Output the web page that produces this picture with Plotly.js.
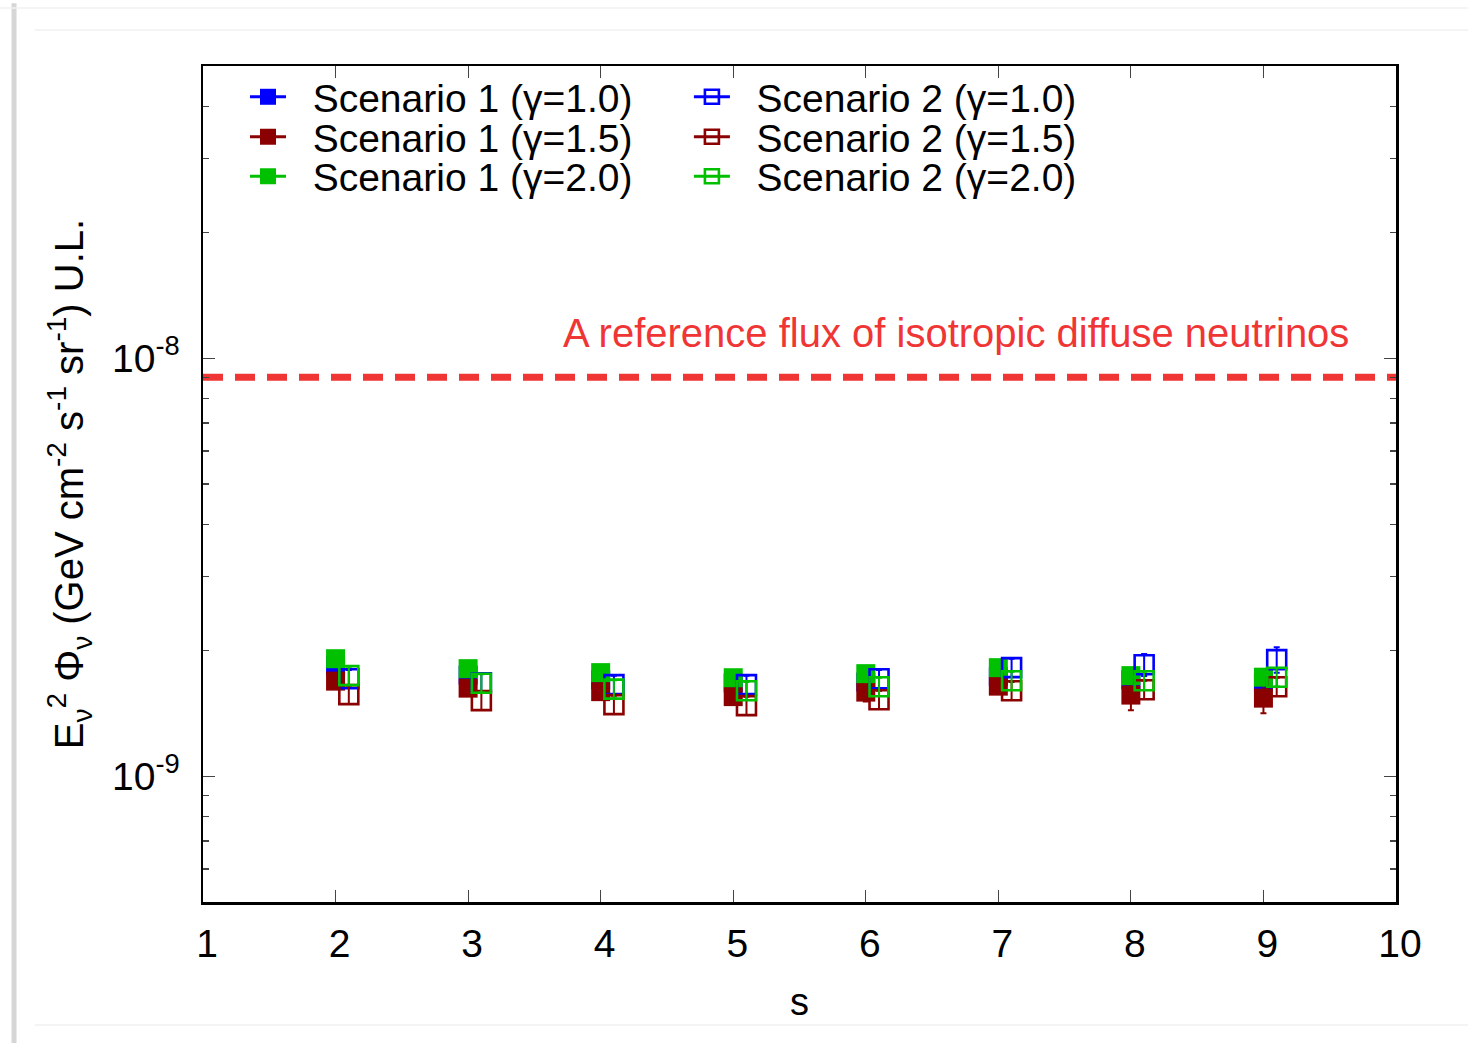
<!DOCTYPE html>
<html>
<head>
<meta charset="utf-8">
<script src="https://cdn.plot.ly/plotly-3.0.1.min.js"></script>
<style>
html,body{margin:0;padding:0;background:#ffffff;}
#chart{width:1468px;height:1043px;}
</style>
</head>
<body>
<div id="chart"></div>
<script>
// ---- data ----
const sValues = [2, 3, 4, 5, 6, 7, 8, 9];                          // Scenario 1 positions
const sValuesShifted = [2.1, 3.1, 4.1, 5.1, 6.1, 7.1, 8.1, 9.1];   // Scenario 2 drawn slightly right

// Upper limits E^2 Phi (GeV cm^-2 s^-1 sr^-1)
const scen1Gamma10 = [1.84e-9, 1.745e-9, 1.70e-9, 1.67e-9, 1.68e-9, 1.73e-9, 1.70e-9, 1.68e-9];
const scen1Gamma15 = [1.688e-9, 1.624e-9, 1.593e-9, 1.550e-9, 1.589e-9, 1.642e-9, 1.563e-9, 1.537e-9];
const scen1Gamma20 = [1.910e-9, 1.808e-9, 1.769e-9, 1.720e-9, 1.759e-9, 1.818e-9, 1.740e-9, 1.725e-9];
const scen2Gamma10 = [1.71e-9, 1.673e-9, 1.656e-9, 1.656e-9, 1.710e-9, 1.818e-9, 1.848e-9, 1.900e-9];
const scen2Gamma15 = [1.567e-9, 1.516e-9, 1.483e-9, 1.475e-9, 1.524e-9, 1.601e-9, 1.610e-9, 1.637e-9];
const scen2Gamma20 = [1.740e-9, 1.669e-9, 1.615e-9, 1.601e-9, 1.637e-9, 1.692e-9, 1.692e-9, 1.725e-9];

// relative error bar half-lengths (fraction)
const relErrScen1Gamma10 = [0.04, 0.04, 0.04, 0.04, 0.04, 0.04, 0.04, 0.04];
const relErrScen1Gamma15 = [0.04, 0.04, 0.04, 0.04, 0.05, 0.04, 0.08, 0.08];
const relErrScen1Gamma20 = [0.04, 0.04, 0.04, 0.04, 0.04, 0.04, 0.04, 0.04];
const relErrScen2Gamma10 = [0.05, 0.05, 0.05, 0.05, 0.05, 0.05, 0.06, 0.07];
const relErrScen2Gamma15 = [0.05, 0.05, 0.05, 0.05, 0.05, 0.05, 0.05, 0.05];
const relErrScen2Gamma20 = [0.05, 0.05, 0.05, 0.05, 0.05, 0.05, 0.05, 0.05];

const seriesNames = [
  'Scenario 1 (\u03b3=1.0)', 'Scenario 1 (\u03b3=1.5)', 'Scenario 1 (\u03b3=2.0)',
  'Scenario 2 (\u03b3=1.0)', 'Scenario 2 (\u03b3=1.5)', 'Scenario 2 (\u03b3=2.0)'
];

const referenceFlux = 9.0e-9;          // isotropic diffuse neutrino reference flux
const referenceX = [1, 10];
const referenceLabel = 'A reference flux of isotropic diffuse neutrinos';

const xTickVals = [1, 2, 3, 4, 5, 6, 7, 8, 9, 10];
const yTickVals = [1e-9, 1e-8];
const yTickText = ['10<sup>-9</sup>', '10<sup>-8</sup>'];

// ---- styling ----
const BLUE = '#0000ff', DRED = '#8b0000', GREEN = '#00c000', REF = '#f03535';
const FONT = 'Liberation Sans, Arial, Helvetica, sans-serif';
const pad = '\u00a0\u00a0';

function errArr(vals, rel) { return vals.map((v, i) => v * rel[i]); }

function dataTrace(x, y, rel, color, filled) {
  return {
    type: 'scatter', mode: 'markers', x: x, y: y, showlegend: false, hoverinfo: 'x+y',
    marker: filled
      ? {symbol: 'square', size: 19, color: color, line: {width: 0}}
      : {symbol: 'square-open', size: 19, color: color, line: {width: 2.6, color: color}},
    error_y: {type: 'data', array: errArr(y, rel), visible: true, color: color, thickness: 2, width: 3}
  };
}

function legendTrace(name, color, filled, legendId) {
  return {
    type: 'scatter', mode: 'lines+markers', x: [null], y: [null], name: pad + name,
    legend: legendId, showlegend: true,
    line: {color: color, width: 3},
    marker: filled
      ? {symbol: 'square', size: 16, color: color}
      : {symbol: 'square-open', size: 14, color: color, line: {width: 2.6, color: color}}
  };
}

const traces = [
  dataTrace(sValues, scen1Gamma10, relErrScen1Gamma10, BLUE, true),
  dataTrace(sValues, scen1Gamma15, relErrScen1Gamma15, DRED, true),
  dataTrace(sValues, scen1Gamma20, relErrScen1Gamma20, GREEN, true),
  dataTrace(sValuesShifted, scen2Gamma10, relErrScen2Gamma10, BLUE, false),
  dataTrace(sValuesShifted, scen2Gamma15, relErrScen2Gamma15, DRED, false),
  dataTrace(sValuesShifted, scen2Gamma20, relErrScen2Gamma20, GREEN, false),
  {
    type: 'scatter', mode: 'lines', x: referenceX, y: [referenceFlux, referenceFlux],
    showlegend: false, hoverinfo: 'skip',
    line: {color: REF, width: 7, dash: '20px,12px'}
  },
  legendTrace(seriesNames[0], BLUE, true, 'legend'),
  legendTrace(seriesNames[1], DRED, true, 'legend2'),
  legendTrace(seriesNames[2], GREEN, true, 'legend3'),
  legendTrace(seriesNames[3], BLUE, false, 'legend4'),
  legendTrace(seriesNames[4], DRED, false, 'legend5'),
  legendTrace(seriesNames[5], GREEN, false, 'legend6')
];

function legendBox(x, y) {
  return {x: x, y: y, xanchor: 'left', yanchor: 'middle', bgcolor: 'rgba(0,0,0,0)',
          borderwidth: 0, itemwidth: 36, font: {family: FONT, size: 39, color: '#000'}};
}
const col1 = 0.0352, col2 = 0.4073;
const row1 = 0.9630, row2 = 0.9152, row3 = 0.8680;

const layout = {
  width: 1468, height: 1043,
  paper_bgcolor: '#ffffff', plot_bgcolor: '#ffffff',
  margin: {l: 203, r: 72, t: 66, b: 141, pad: 0},
  font: {family: FONT, size: 39, color: '#000'},
  showlegend: true,
  legend: legendBox(col1, row1),
  legend2: legendBox(col1, row2),
  legend3: legendBox(col1, row3),
  legend4: legendBox(col2, row1),
  legend5: legendBox(col2, row2),
  legend6: legendBox(col2, row3),
  xaxis: {
    range: [1, 10], tickvals: xTickVals, ticks: 'inside', ticklen: 12, tickwidth: 1.2,
    tickcolor: '#444', showline: true, linecolor: '#000', linewidth: 2.5, mirror: 'ticks',
    showgrid: false, zeroline: false, tickfont: {family: FONT, size: 39},
    ticklabelstandoff: 6, ticklabelshift: 4,
    title: {text: 's', font: {family: FONT, size: 38}, standoff: 24}
  },
  yaxis: {
    type: 'log', range: [Math.log10(5e-10), Math.log10(5e-8)],
    tickvals: yTickVals, ticktext: yTickText, ticks: 'inside', ticklen: 12, tickwidth: 1.2,
    tickcolor: '#444', showline: true, linecolor: '#000', linewidth: 2.5, mirror: 'ticks',
    showgrid: false, zeroline: false, tickfont: {family: FONT, size: 39},
    ticklabelstandoff: 13,
    minor: {ticks: 'inside', ticklen: 6, tickwidth: 1.2, tickcolor: '#444', dtick: 'D1', showgrid: false},
    title: {
      text: 'E<sub>\u03bd</sub><sup>2</sup> \u03a6<sub>\u03bd</sub> (GeV cm<sup>-2</sup> s<sup>-1</sup> sr<sup>-1</sup>) U.L.',
      font: {family: FONT, size: 40}, standoff: 16
    }
  },
  annotations: [{
    xref: 'paper', yref: 'paper', x: 0.9623, y: 0.6806, xanchor: 'right', yanchor: 'middle',
    text: referenceLabel, showarrow: false, font: {family: FONT, size: 40, color: REF}
  }],
  shapes: [
    {type: 'line', xref: 'paper', yref: 'paper', x0: -0.1584, x1: -0.1584, y0: -0.17, y1: 1.075,
     line: {color: '#d6d6d6', width: 5}},
    {type: 'line', xref: 'paper', yref: 'paper', x0: -0.17, x1: 1.07, y0: 1.0694, y1: 1.0694,
     line: {color: '#f0f0f0', width: 1.5}},
    {type: 'line', xref: 'paper', yref: 'paper', x0: -0.141, x1: 1.07, y0: 1.0431, y1: 1.0431,
     line: {color: '#f0f0f0', width: 1.5}},
    {type: 'line', xref: 'paper', yref: 'paper', x0: -0.141, x1: 1.07, y0: -0.1471, y1: -0.1471,
     line: {color: '#f0f0f0', width: 1.5}}
  ]
};

Plotly.newPlot('chart', traces, layout, {displayModeBar: false, staticPlot: true});
</script>
</body>
</html>
